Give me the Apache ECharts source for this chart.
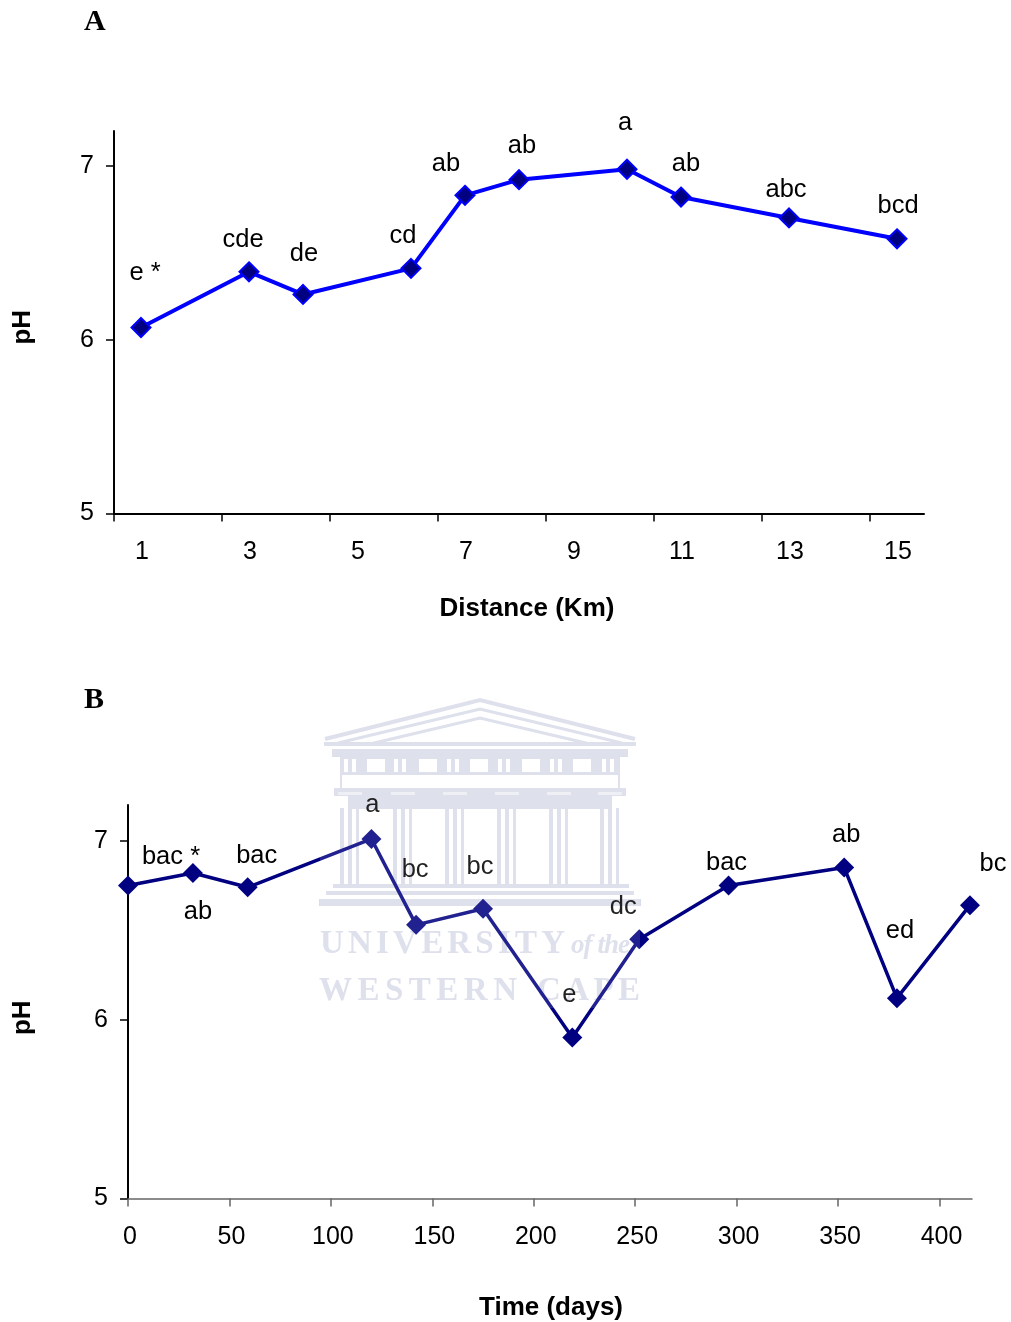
<!DOCTYPE html>
<html>
<head>
<meta charset="utf-8">
<style>
  html, body { margin: 0; padding: 0; background: #fff; }
  #chart { width: 1011px; height: 1322px; }
</style>
<script src="https://cdn.jsdelivr.net/npm/echarts@6/dist/echarts.min.js"></script>
</head>
<body>
<div id="chart"></div>
<script>
// panel A: pH along the river
const distances = [1, 3, 4, 6, 7, 8, 10, 11, 13, 15]
const phDistance = [6.07, 6.39, 6.26, 6.41, 6.83, 6.92, 6.98, 6.82, 6.70, 6.58]
const lettersDistance = ['e *', 'cde', 'de', 'cd', 'ab', 'ab', 'a', 'ab', 'abc', 'bcd']
const distanceLabels = [1, 3, 5, 7, 9, 11, 13, 15]
const distanceTicks = [0.5, 2.5, 4.5, 6.5, 8.5, 10.5, 12.5, 14.5]

// panel B: pH over time
const days = [0, 32, 59, 120, 142, 175, 219, 252, 296, 353, 379, 415]
const phTime = [6.75, 6.82, 6.74, 7.01, 6.53, 6.62, 5.90, 6.45, 6.75, 6.85, 6.12, 6.64]
const lettersTime = ['bac *', 'ab', 'bac', 'a', 'bc', 'bc', 'e', 'dc', 'bac', 'ab', 'ed', 'bc']
const dayTicks = [0, 50, 100, 150, 200, 250, 300, 350, 400]
const phTicks = [5, 6, 7]

// hand placed letters, same order as the points
const offsetsDistance = [[4, -54], [-6, -32], [1, -40], [-8, -32], [-19, -31], [3, -34], [-2, -46], [5, -33], [-3, -28], [1, -33]]
const offsetsTime = [[43, -29], [5, 39], [9, -31], [1, -34], [-1, -55], [-3, -42], [-3, -43], [-16, -32], [-2, -23], [2, -33], [3, -67], [23, -41]]

const FONT = '"Liberation Sans", Arial, sans-serif'
const SERIF = '"Liberation Serif", "Times New Roman", serif'

function pointLabel(text, offset) {
  return {
    show: true,
    formatter: text,
    position: 'inside',
    offset: offset,
    color: '#000',
    fontFamily: FONT,
    fontSize: 25.5,
  }
}

// crest of the scanned page, behind the chart, with a thin veil over the line
function watermark() {
  const c = '#d9dcea'
  const out = []
  const rect = (x, y, w, h, fill, z) => out.push({
    type: 'rect', z: z || 1, silent: true,
    shape: { x: x, y: y, width: w, height: h },
    style: { fill: fill || c },
  })
  const roof = (pts, w) => out.push({
    type: 'polyline', z: 1, silent: true,
    shape: { points: pts },
    style: { stroke: c, lineWidth: w, fill: 'none' },
  })
  rect(320, 698, 320, 310, 'rgba(255,255,255,0.13)', 50)
  roof([[325, 739], [480, 700], [635, 739]], 4)
  roof([[338, 743], [480, 709], [622, 743]], 3)
  roof([[370, 744], [480, 718], [590, 744]], 3)
  rect(324, 742, 312, 4)
  rect(332, 749, 296, 8)
  // frieze with its openings
  rect(340, 757, 280, 18)
  ;[367, 419, 470, 522, 573].forEach((x) => rect(x, 759, 18, 13, '#fff'))
  ;[344, 352, 394, 402, 447, 455, 498, 506, 550, 558, 602, 610].forEach((x) => rect(x, 759, 4, 13, '#fff'))
  rect(340, 775, 2, 13)
  rect(618, 775, 2, 13)
  rect(334, 788, 292, 8)
  rect(348, 796, 264, 13)
  // columns
  ;[340, 393, 445, 497, 549, 600].forEach((x) => {
    rect(x - 2, 792, 24, 3, '#eceef5')
    rect(x, 808, 4, 78)
    rect(x + 8, 808, 4, 78)
    rect(x + 16, 808, 3, 78)
  })
  rect(333, 884, 296, 4)
  rect(326, 891, 308, 4)
  rect(319, 899, 322, 7)
  // letter spaced caption
  const ctx = document.createElement('canvas').getContext('2d')
  const spaced = (t, x0, x1, y, font) => {
    ctx.font = font
    const extra = (x1 - x0 - ctx.measureText(t).width) / (t.length - 1)
    let x = x0
    for (const ch of t) {
      out.push({
        type: 'text', z: 1, silent: true, x: x, y: y,
        style: { text: ch, fill: c, font: font, textVerticalAlign: 'middle' },
      })
      x += ctx.measureText(ch).width + extra
    }
  }
  spaced('UNIVERSITY', 320, 565, 944, 'bold 33px ' + SERIF)
  spaced('of the', 571, 630, 946, 'italic bold 27px ' + SERIF)
  spaced('WESTERN', 319, 517, 991, 'bold 33px ' + SERIF)
  spaced('CAPE', 537, 640, 991, 'bold 33px ' + SERIF)
  return out
}

const myChart = echarts.init(document.getElementById('chart'), null, { renderer: 'canvas' })

const yAxisBase = {
  type: 'value',
  min: 5,
  max: 7.2,
  name: 'pH',
  nameLocation: 'middle',
  nameRotate: 90,
  axisLine: { show: true, lineStyle: { color: '#000', width: 2 } },
  axisTick: { show: true, customValues: phTicks, length: 8, lineStyle: { color: '#000', width: 1.5 } },
  axisLabel: { customValues: phTicks, color: '#000', fontFamily: FONT, fontSize: 25, margin: 20, verticalAlignMinLabel: 'middle', verticalAlignMaxLabel: 'middle' },
  splitLine: { show: false },
}
const pHName = { color: '#000', fontFamily: FONT, fontSize: 26, fontWeight: 'bold' }

myChart.setOption({
  animation: false,
  backgroundColor: '#fff',
  grid: [
    { left: 114, top: 131, width: 810, height: 382.5, outerBoundsMode: 'none' },
    { left: 128, top: 805, width: 844, height: 393.5, outerBoundsMode: 'none' },
  ],
  xAxis: [
    {
      gridIndex: 0,
      type: 'value',
      min: 0.5,
      max: 15.5,
      name: 'Distance (Km)',
      nameLocation: 'middle',
      nameGap: 82,
      nameTextStyle: { color: '#000', fontFamily: FONT, fontSize: 26, fontWeight: 'bold', padding: [0, 0, 0, 16] },
      axisLine: { onZero: false, lineStyle: { color: '#000', width: 2 } },
      axisTick: { show: true, customValues: distanceTicks, length: 8, lineStyle: { color: '#000', width: 1.5 } },
      axisLabel: { customValues: distanceLabels, color: '#000', fontFamily: FONT, fontSize: 25, margin: 26, padding: [0, 0, 0, 2] },
      splitLine: { show: false },
    },
    {
      gridIndex: 1,
      type: 'value',
      min: 0,
      max: 416,
      name: 'Time (days)',
      nameLocation: 'middle',
      nameGap: 96,
      nameTextStyle: { color: '#000', fontFamily: FONT, fontSize: 26, fontWeight: 'bold', padding: [0, 0, 0, 2] },
      axisLine: { onZero: false, lineStyle: { color: '#666', width: 1.5 } },
      axisTick: { customValues: dayTicks, length: 8, lineStyle: { color: '#666', width: 1.5 } },
      axisLabel: { customValues: dayTicks, color: '#000', fontFamily: FONT, fontSize: 25, margin: 26, padding: [0, 0, 0, 4] },
      splitLine: { show: false },
    },
  ],
  yAxis: [
    Object.assign({}, yAxisBase, { gridIndex: 0, nameGap: 78, nameTextStyle: Object.assign({}, pHName, { padding: [0, 0, 0, -10] }) }),
    Object.assign({}, yAxisBase, { gridIndex: 1, nameGap: 92, nameTextStyle: Object.assign({}, pHName, { padding: [0, 0, 0, -32] }) }),
  ],
  series: [
    {
      type: 'line',
      xAxisIndex: 0,
      yAxisIndex: 0,
      symbol: 'diamond',
      symbolSize: 19,
      showAllSymbol: true,
      z: 5,
      lineStyle: { color: '#0000ff', width: 4 },
      itemStyle: { color: '#000080', borderColor: '#0000ff', borderWidth: 2 },
      data: distances.map((d, i) => ({
        value: [d, phDistance[i]],
        label: pointLabel(lettersDistance[i], offsetsDistance[i]),
      })),
    },
    {
      type: 'line',
      xAxisIndex: 1,
      yAxisIndex: 1,
      symbol: 'diamond',
      symbolSize: 20,
      showAllSymbol: true,
      z: 5,
      lineStyle: { color: '#000080', width: 3.5 },
      itemStyle: { color: '#000080' },
      data: days.map((d, i) => ({
        value: [d, phTime[i]],
        label: pointLabel(lettersTime[i], offsetsTime[i]),
      })),
    },
  ],
  graphic: [
    { type: 'text', x: 84, y: 22, style: { text: 'A', fill: '#000', font: 'bold 30px ' + SERIF, textVerticalAlign: 'middle' } },
    { type: 'text', x: 84, y: 700, style: { text: 'B', fill: '#000', font: 'bold 30px ' + SERIF, textVerticalAlign: 'middle' } },
  ].concat(watermark()),
})
</script>
</body>
</html>
